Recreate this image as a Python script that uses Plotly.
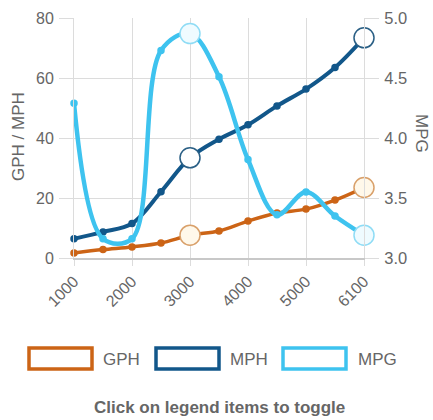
import plotly.graph_objects as go

categories = ["1000", "1500", "2000", "2500", "3000", "3500", "4000", "4500", "5000", "5500", "6100"]
tick_labels = ["1000", "2000", "3000", "4000", "5000", "6100"]
gph = [1.7, 2.8, 3.7, 5.0, 7.6, 9.0, 12.3, 15.0, 16.3, 19.3, 23.5]
mph = [6.4, 8.7, 11.5, 22.1, 33.4, 39.6, 44.4, 50.7, 56.3, 63.5, 73.4]
mpg = [4.29, 3.16, 3.16, 4.73, 4.87, 4.51, 3.82, 3.36, 3.55, 3.35, 3.19]
highlight = ["3000", "6100"]

W, H = 433, 420
L, R, T, B = 74, 364, 18, 258

def px(x):
    return (x - L) / (R - L)

def py(y):
    return (B - y) / (B - T)

series = [
    ("GPH", gph, "#cc6416", "#fff8ea", "#d9a06a", "y", 3.5),
    ("MPH", mph, "#12578a", "#ffffff", "#2a5f85", "y", 4),
    ("MPG", mpg, "#3ec3ef", "#effbff", "#8fdcf5", "y2", 4.5),
]

fig = go.Figure()
for name, vals, col, hfill, hline, yax, lw in series:
    sizes = [20 if c in highlight else 6 for c in categories]
    fills = [hfill if c in highlight else col for c in categories]
    lines = [hline if c in highlight else col for c in categories]
    fig.add_trace(go.Scatter(
        x=categories, y=vals, name=name, yaxis=yax, mode="lines+markers",
        line=dict(color=col, width=lw, shape="spline", smoothing=1),
        marker=dict(size=sizes, color=fills, opacity=1, line=dict(color=lines, width=1.5)),
        cliponaxis=False, showlegend=False,
    ))

font = "Liberation Sans, Arial, sans-serif"
grid = "#dcdcdc"
fig.update_layout(
    width=W, height=H,
    margin=dict(l=L, r=W - R, t=T, b=H - B, autoexpand=False),
    paper_bgcolor="white", plot_bgcolor="white",
    font=dict(family=font, size=16, color="#666"),
    xaxis=dict(
        type="category", range=[0, len(categories) - 1], automargin=False,
        tickmode="array", tickvals=tick_labels, ticktext=tick_labels,
        tickangle=-45, showgrid=True, gridcolor=grid, gridwidth=1,
        showline=True, linecolor="#c8c8c8", linewidth=1.5,
        ticks="outside", ticklen=6, tickcolor=grid, ticklabelstandoff=0,
        tickfont=dict(size=16, color="#666"),
        zeroline=False,
    ),
    yaxis=dict(
        range=[0, 80], dtick=20, showgrid=True, gridcolor=grid, automargin=False,
        zeroline=False, ticks="outside", ticklen=14, tickcolor=grid, ticklabelstandoff=2,
        tickfont=dict(size=16, color="#666"),
        showline=True, linecolor=grid,
    ),
    yaxis2=dict(
        range=[3, 5], dtick=0.5, tickformat=".1f", overlaying="y", side="right",
        showgrid=False, zeroline=False, ticks="outside", ticklen=14, tickcolor=grid,
        ticklabelstandoff=2, automargin=False, showline=True, linecolor=grid,
        tickfont=dict(size=16.5, color="#666"),
    ),
)

annotations = [
    dict(text="GPH / MPH", x=px(18), y=py(137), xref="paper", yref="paper",
         xanchor="center", yanchor="middle",
         textangle=-90, showarrow=False, font=dict(size=17, color="#666")),
    dict(text="MPG", x=px(422), y=py(133), xref="paper", yref="paper",
         xanchor="center", yanchor="middle",
         textangle=90, showarrow=False, font=dict(size=17, color="#666")),
    dict(text="<b>Click on legend items to toggle</b>", x=px(219), y=py(407),
         xref="paper", yref="paper", showarrow=False, xanchor="center", yanchor="middle",
         font=dict(size=17, color="#666")),
]

shapes = []
legend_boxes = [(29, 101), (156, 228), (283, 356)]
for (bx, tx), (name, vals, col, *_rest) in zip(legend_boxes, series):
    shapes.append(dict(type="rect", xref="paper", yref="paper",
                       x0=px(bx), x1=px(bx + 63), y0=py(348), y1=py(369),
                       line=dict(color=col, width=3.5), fillcolor="white"))
    annotations.append(dict(text=name, x=px(tx), y=py(359), xref="paper", yref="paper",
                            xanchor="left", yanchor="middle", showarrow=False,
                            font=dict(size=17, color="#666")))

fig.update_layout(annotations=annotations, shapes=shapes)
fig.write_html("out.html", config={"displayModeBar": False},
               post_script="document.body.style.margin='0px';document.body.style.overflow='hidden';")
